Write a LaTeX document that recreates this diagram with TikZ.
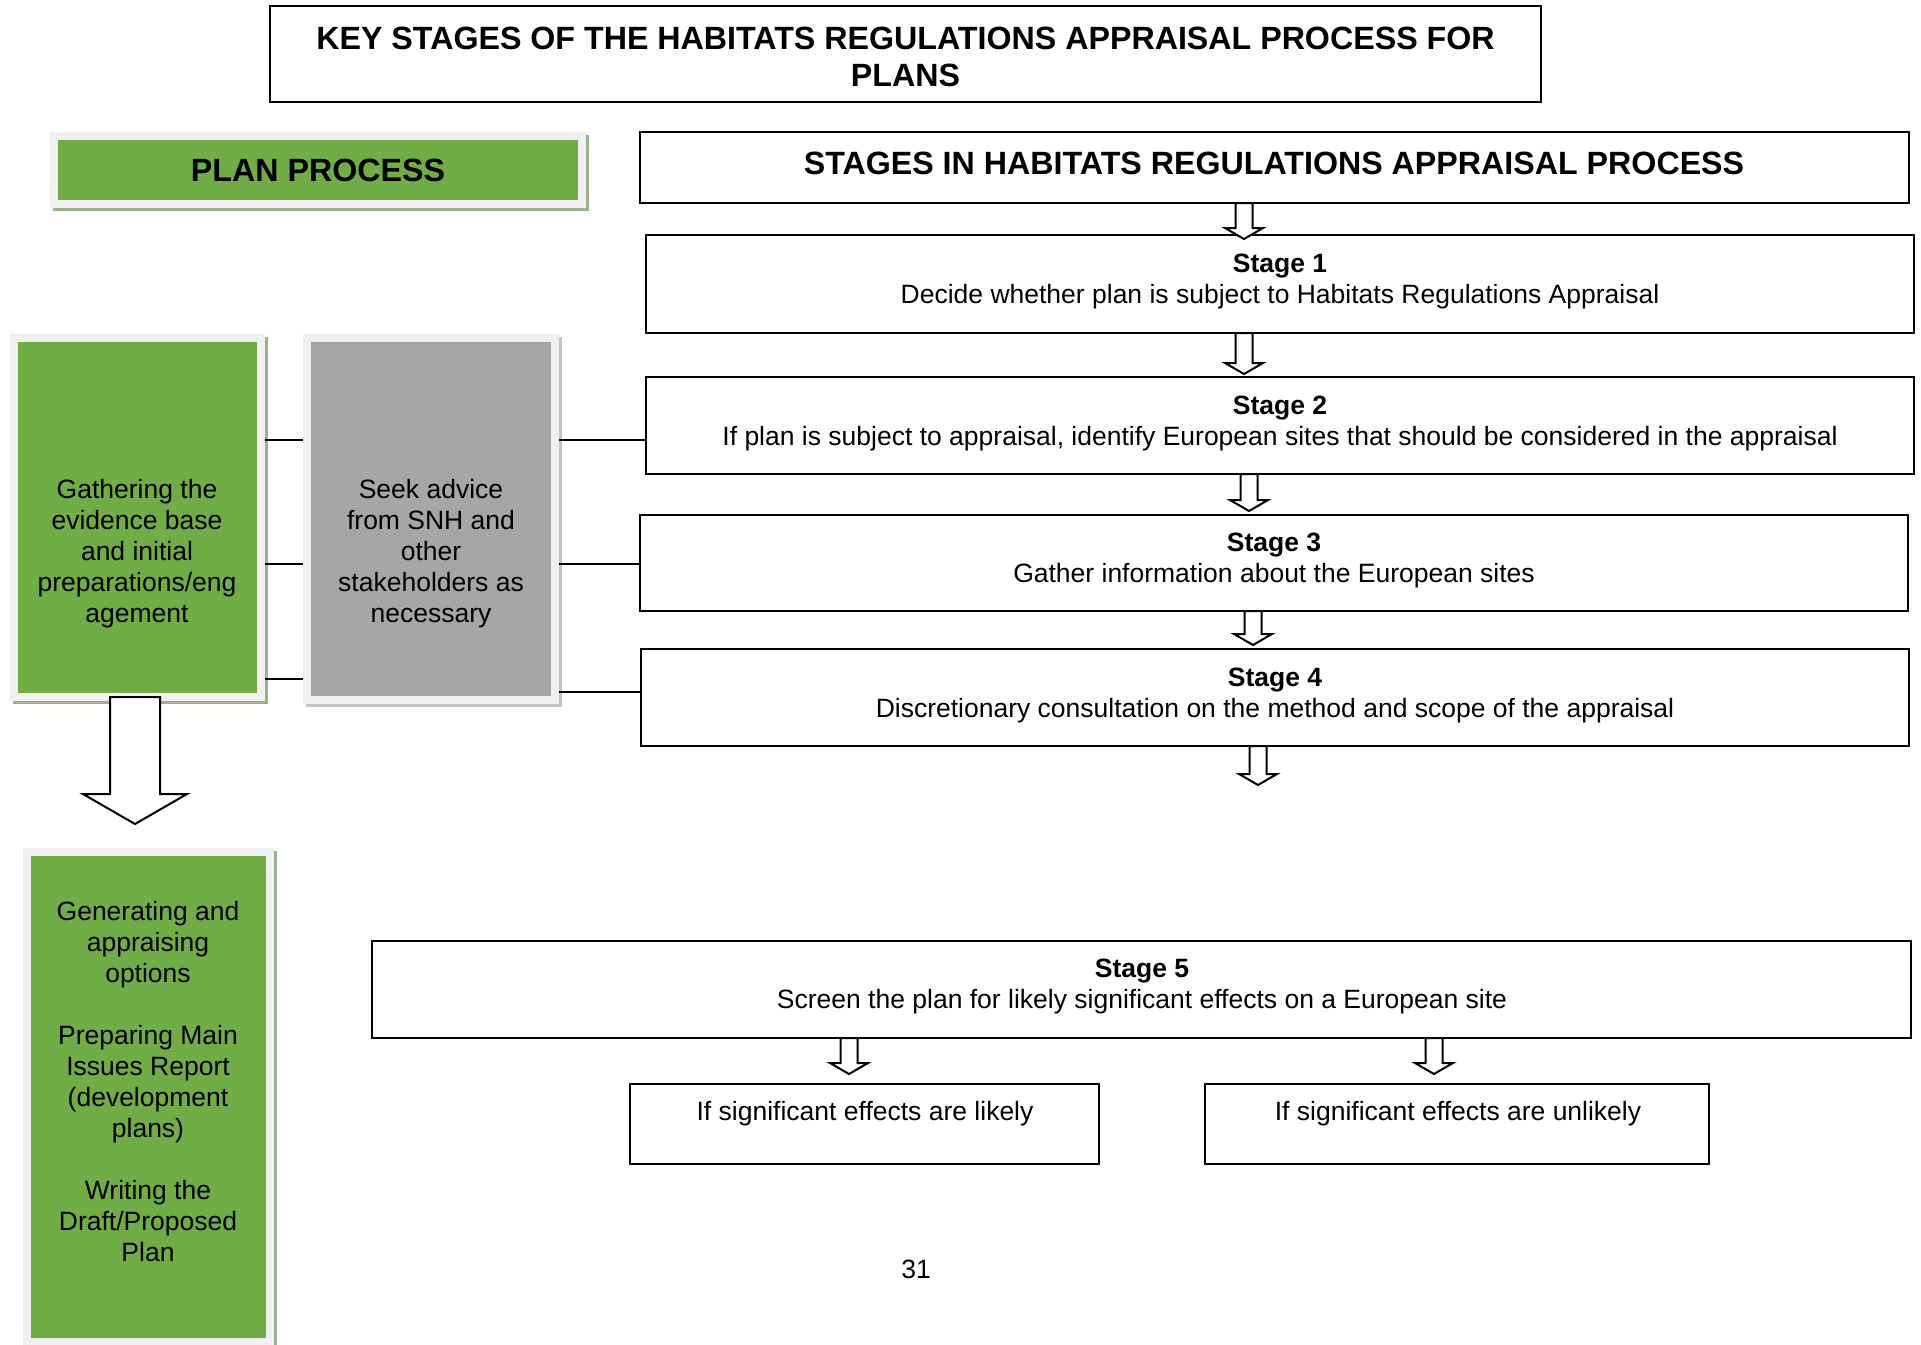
\documentclass[tikz,border=0pt]{standalone}
\usepackage{fontspec}
\setmainfont{Liberation Sans}
\usetikzlibrary{calc}

\definecolor{plangreen}{HTML}{70AD47}
\definecolor{seekgray}{HTML}{A6A6A6}
\definecolor{framegray}{HTML}{F0F0F0}
\definecolor{greenshadow}{HTML}{9DB08E}
\definecolor{grayshadow}{HTML}{C4C4C4}

% hollow block arrow: from, to, half shaft, half head, head length
\newcommand{\blockarrow}[5]{%
    \draw[hollow] let \p1=#1, \p2=#2 in
        (\x1-#3,\y1) -- (\x1-#3,\y2+#5) -- (\x1-#4,\y2+#5) -- (\x1,\y2)
        -- (\x1+#4,\y2+#5) -- (\x1+#3,\y2+#5) -- (\x1+#3,\y1) -- cycle;
}

\tikzset{
    box/.style={draw, line width=2.2pt, inner sep=0pt, outer sep=0pt},
    panel/.style 2 args={fill=#1, draw=framegray, line width=8pt, inner sep=0pt, outer sep=0pt,
        preaction={draw=#2, line width=8pt, transform canvas={shift={(3,3)}}}},
    body/.style={font=\fontsize{26.5}{31}\selectfont, align=center},
    head/.style={font=\fontsize{32.2}{36.5}\selectfont\bfseries, align=center},
    hollow/.style={draw, fill=white, line width=2pt, line join=miter},
    link/.style={line width=2pt}
}

\begin{document}
\begin{tikzpicture}[x=1pt,y=-1pt]
        \useasboundingbox (0,0) rectangle (1921,1344);
        % Headings
        \node[box, minimum width=1271pt, minimum height=96pt] (title) at (905.5,54) {};
        \node[head] (titletext) at (905.5,57) {KEY STAGES OF THE HABITATS REGULATIONS APPRAISAL PROCESS FOR\\PLANS};
        \node[panel={plangreen}{greenshadow}, head, minimum width=528pt, minimum height=68pt] (planhead) at (318,170) {PLAN PROCESS};
        \node[box, minimum width=1269pt, minimum height=71pt] (hra) at (1274.5,167.5) {};
        \node[head] (hratext) at (1274,163) {STAGES IN HABITATS REGULATIONS APPRAISAL PROCESS};
        % Stage boxes
        \node[box, minimum width=1268pt, minimum height=98pt] (s1) at (1280,284) {};
        \node[box, minimum width=1268pt, minimum height=97pt] (s2) at (1280,425.5) {};
        \node[box, minimum width=1268pt, minimum height=96pt] (s3) at (1274,563) {};
        \node[box, minimum width=1268pt, minimum height=97pt] (s4) at (1275,697.5) {};
        \node[box, minimum width=1539pt, minimum height=97pt] (s5) at (1141.5,989.5) {};
        \node[box, minimum width=469pt, minimum height=80pt] (likely) at (864.5,1124) {};
        \node[box, minimum width=504pt, minimum height=80pt] (unlikely) at (1457,1124) {};
        \node[body] (s1text) at (1280,281) {\textbf{Stage 1}\\Decide whether plan is subject to Habitats Regulations Appraisal};
        \node[body] (s2text) at (1280,423) {\textbf{Stage 2}\\If plan is subject to appraisal, identify European sites that should be considered in the appraisal};
        \node[body] (s3text) at (1274,560) {\textbf{Stage 3}\\Gather information about the European sites};
        \node[body] (s4text) at (1275,695) {\textbf{Stage 4}\\Discretionary consultation on the method and scope of the appraisal};
        \node[body] (s5text) at (1142,986) {\textbf{Stage 5}\\Screen the plan for likely significant effects on a European site};
        \node[body] (likelytext) at (865,1114) {If significant effects are likely};
        \node[body] (unlikelytext) at (1458,1114) {If significant effects are unlikely};
        % Plan process panels
        \node[panel={plangreen}{greenshadow}, minimum width=247pt, minimum height=359pt] (gather) at (137.5,517.5) {};
        \node[panel={seekgray}{grayshadow}, minimum width=248pt, minimum height=362pt] (seek) at (431,519) {};
        \node[panel={plangreen}{greenshadow}, minimum width=243pt, minimum height=490pt] (generate) at (148.5,1097) {};
        \node[body] (gathertext) at (137,554) {Gathering the\\evidence base\\and initial\\preparations/eng\\agement};
        \node[body] (seektext) at (431,554) {Seek advice\\from SNH and\\other\\stakeholders as\\necessary};
        \node[body] (generatetext) at (148,1082) {Generating and\\appraising\\options\\[31pt]Preparing Main\\Issues Report\\(development\\plans)\\[31pt]Writing the\\Draft/Proposed\\Plan};
        \node[body] (pagenum) at (916,1269) {31};
        % Draw links
        \foreach \ly in {440,564,679} {
            \draw[link, shorten <=4pt, shorten >=4pt] (gather.east |- 0,\ly) -- (seek.west |- 0,\ly);
        }
        \foreach \ly/\st in {440/s2, 564/s3, 692/s4} {
            \draw[link, shorten <=4pt] (seek.east |- 0,\ly) -- (\st.west |- 0,\ly);
        }
        % Draw arrows
        \blockarrow{(135,0 |- gather.south)}{(135,824)}{25pt}{52pt}{30pt}
        \foreach \src/\dst/\ax/\gap in {hra/s1/1244/4, s1/s2/1244/-3, s2/s3/1249/-4, s3/s4/1253/-4} {
            \blockarrow{(\ax,0 |- \src.south)}{($(\ax,0 |- \dst.north)+(0,\gap)$)}{8.5pt}{19pt}{11pt}
        }
        \coordinate (s4out) at (1258,785);
        \blockarrow{(1258,0 |- s4.south)}{(s4out)}{8.5pt}{19pt}{11pt}
        \foreach \dst/\ax in {likely/849, unlikely/1434} {
            \blockarrow{(\ax,0 |- s5.south)}{($(\ax,0 |- \dst.north)+(0,-10)$)}{8.5pt}{19pt}{11pt}
        }
\end{tikzpicture}
\end{document}
